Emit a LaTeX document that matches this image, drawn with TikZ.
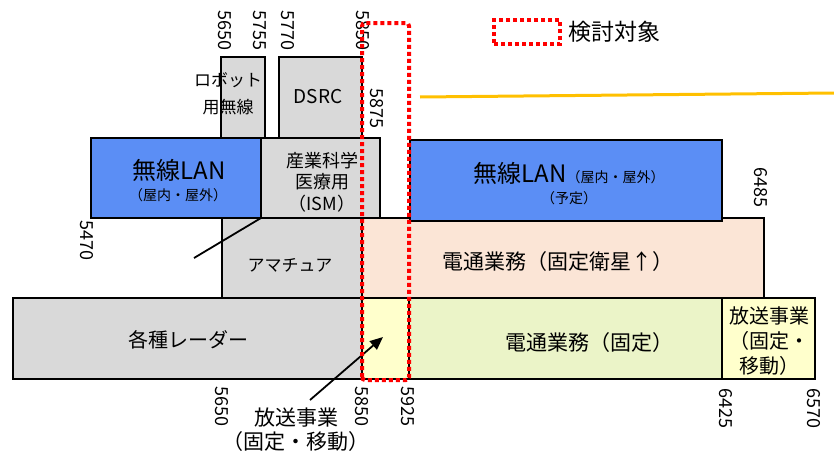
\documentclass[tikz,border=0pt]{standalone}
\usepackage{fontspec}
\setmainfont{Noto Sans CJK JP}
\usetikzlibrary{arrows.meta}
\definecolor{lanblue}{RGB}{91,142,245}
\definecolor{bandgray}{RGB}{217,217,217}
\definecolor{bandpink}{RGB}{251,229,214}
\definecolor{bandgreen}{RGB}{235,244,200}
\definecolor{bandyellow}{RGB}{255,255,204}
\definecolor{lineorange}{RGB}{255,192,0}
\definecolor{candred}{RGB}{255,0,0}
\begin{document}
\begin{tikzpicture}[x=1pt,y=-1pt,
  band/.style={draw=black,line width=1.6pt,inner sep=0pt,outer sep=0pt,anchor=north west},
  freq/.style={rotate=-90,anchor=west,inner sep=0pt,font=\fontsize{18}{18}\selectfont},
  lbl/.style={inner sep=0pt,align=center},
  cand/.style={draw=candred,line width=4pt,dash pattern=on 4pt off 3pt},
  conn/.style={draw=black,line width=1.8pt}]
\useasboundingbox (0,0) rectangle (834,455);

% row 4 (bottom)
\node[band,fill=bandgray,minimum width=349pt,minimum height=81pt] (radar) at (13,298) {};
\node[band,fill=bandyellow,minimum width=47pt,minimum height=81pt] (bcastA) at (362,298) {};
\node[band,fill=bandgreen,minimum width=313pt,minimum height=81pt] (fixed) at (409,298) {};
\node[band,fill=bandyellow,minimum width=93pt,minimum height=81pt] (bcastB) at (722,298) {};
% row 3
\node[band,fill=bandgray,minimum width=140pt,minimum height=80pt] (amateur) at (222,218) {};
\node[band,fill=bandpink,minimum width=402pt,minimum height=80pt] (sat) at (362,218) {};
% row 2
\node[band,fill=lanblue,minimum width=170pt,minimum height=80pt] (lanL) at (91,138) {};
\node[band,fill=bandgray,minimum width=119pt,minimum height=80pt] (ism) at (261,138) {};
\node[band,fill=lanblue,minimum width=312pt,minimum height=81pt] (lanR) at (410,140) {};
% row 1
\node[band,fill=bandgray,minimum width=44pt,minimum height=81pt] (robot) at (221,57) {};
\node[band,fill=bandgray,minimum width=83pt,minimum height=81pt] (dsrc) at (279,57) {};

% texts
\node[lbl,font=\fontsize{20}{20}\selectfont] (tradar) at (188,340) {各種レーダー};
\node[lbl,font=\fontsize{21}{21}\selectfont] (tfixed) at (589,343) {電通業務（固定）};
\node[lbl,font=\fontsize{20}{25}\selectfont] (tbcastB) at (769,341) {放送事業\\（固定・\\移動）};
\node[lbl,font=\fontsize{17}{17}\selectfont] (tamateur) at (290,265) {アマチュア};
\node[lbl,font=\fontsize{21}{21}\selectfont] (tsat) at (558,262) {電通業務（固定衛星↑）};
\node[lbl,anchor=base,font=\fontsize{24}{24}\selectfont] (tlanL) at (179,179) {無線LAN};
\node[lbl,font=\fontsize{14}{14}\selectfont] (tlanLsub) at (178,195) {（屋内・屋外）};
\node[lbl,font=\fontsize{18}{21.5}\selectfont] (tism) at (322,182) {産業科学\\医療用\\（ISM）};
\node[lbl,anchor=base,inner sep=0pt] (tlanR) at (569,182) {{\fontsize{24}{24}\selectfont 無線LAN}{\fontsize{14}{14}\selectfont （屋内・屋外）}};
\node[lbl,font=\fontsize{14}{14}\selectfont] (tlanRsub) at (569,198) {（予定）};
\node[lbl,font=\fontsize{17}{27}\selectfont] (trobot) at (228,94) {ロボット\\用無線};
\node[lbl,font=\fontsize{19}{19}\selectfont] (tdsrc) at (318,97) {DSRC};

% frequencies
\node[freq] (f5650t) at (225,10) {5650};
\node[freq] (f5755) at (260,10) {5755};
\node[freq] (f5770) at (288,10) {5770};
\node[freq] (f5850t) at (363,10) {5850};
\node[freq] (f5875) at (377,88) {5875};
\node[freq] (f5470) at (87,220) {5470};
\node[freq] (f6485) at (761,167) {6485};
\node[freq] (f5650b) at (222,386) {5650};
\node[freq] (f5850b) at (362,386) {5850};
\node[freq] (f5925) at (408,386) {5925};
\node[freq] (f6425) at (726,388) {6425};
\node[freq] (f6570) at (814,388) {6570};

% orange line
\coordinate (oa) at (420,97);
\coordinate (ob) at (834,93);
\draw[lineorange,line width=3pt] (oa) -- (ob);

% pointer line from left LAN corner
\coordinate (lanend) at (194,258);
\draw[conn] (lanL.south east) -- (lanend);

% label with arrow
\node[lbl,font=\fontsize{21}{24}\selectfont] (tbcastA) at (296,430) {放送事業\\（固定・移動）};
\coordinate (arrtip) at (383,337);
\draw[conn,-{Triangle[length=13pt,width=11pt]}] (310,400) -- (arrtip);

% candidate band
\draw[cand,rounded corners=3pt] (362,380) -- (362,23) -- (409,23) -- (409,380) -- cycle;
% legend
\node[draw=candred,line width=4pt,dash pattern=on 4pt off 3pt,minimum width=66pt,minimum height=24pt,inner sep=0pt,anchor=north west] (legbox) at (492,18) {};
\node[lbl,anchor=west,font=\fontsize{23}{23}\selectfont] (legtext) at (568,32) {検討対象};
\end{tikzpicture}
\end{document}
